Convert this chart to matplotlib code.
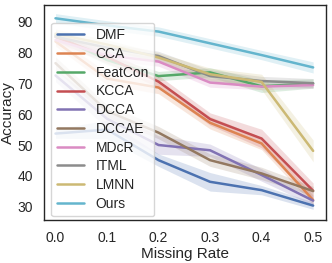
import numpy as np
import matplotlib
matplotlib.use("Agg")
import matplotlib.pyplot as plt
import seaborn as sns

sns.set_theme(style="white")
plt.rcParams['font.family'] = ['Liberation Sans', 'DejaVu Sans']

rates = [0.0, 0.1, 0.2, 0.3, 0.4, 0.5]
methods = ["DMF", "CCA", "FeatCon", "KCCA", "DCCA", "DCCAE", "MDcR", "ITML", "LMNN", "Ours"]

dmf = [53.7, 55.0, 45.1, 38.1, 35.4, 30.4]
cca = [83.5, 71.5, 68.6, 57.2, 50.5, 32.2]
featcon = [85.5, 77.5, 72.3, 73.5, 69.0, 69.9]
kcca = [85.0, 78.5, 70.5, 58.4, 52.1, 35.2]
dcca = [72.5, 58.5, 50.0, 48.3, 40.3, 32.0]
dccae = [76.5, 61.0, 54.0, 45.1, 40.8, 35.1]
mdcr = [84.0, 79.0, 77.0, 70.2, 68.9, 69.4]
itml = [85.0, 81.5, 78.8, 72.3, 70.7, 70.0]
lmnn = [86.0, 82.5, 78.3, 72.9, 70.4, 48.1]
ours = [91.0, 88.7, 86.7, 82.9, 79.1, 75.1]

# half-width of the shaded band per point
dmf_err = [1.5, 3.0, 2.0, 3.0, 1.5, 1.2]
cca_err = [1.5, 2.0, 2.0, 2.0, 2.0, 1.5]
featcon_err = [1.5, 1.5, 1.5, 1.5, 2.0, 1.5]
kcca_err = [1.5, 2.0, 2.0, 2.0, 3.0, 2.5]
dcca_err = [2.0, 3.0, 3.0, 2.0, 2.0, 1.5]
dccae_err = [2.0, 2.0, 2.0, 2.0, 2.0, 1.5]
mdcr_err = [1.5, 1.5, 1.5, 1.5, 1.0, 1.0]
itml_err = [1.5, 1.5, 1.5, 2.0, 1.5, 1.5]
lmnn_err = [1.5, 1.5, 1.5, 2.0, 2.5, 3.5]
ours_err = [1.5, 1.5, 1.5, 1.5, 1.5, 1.8]

values = [dmf, cca, featcon, kcca, dcca, dccae, mdcr, itml, lmnn, ours]
errs = [dmf_err, cca_err, featcon_err, kcca_err, dcca_err, dccae_err,
        mdcr_err, itml_err, lmnn_err, ours_err]
colors = sns.color_palette("deep", 10)

fig = plt.figure(figsize=(3.32, 2.63), dpi=100)
ax = fig.add_axes([0.133, 0.163, 0.849, 0.818])

x = np.array(rates)
for name, v, e, c in zip(methods, values, errs, colors):
    v = np.array(v)
    e = np.array(e)
    ax.fill_between(x, v - e, v + e, color=c, alpha=0.2, linewidth=0)
    ax.plot(x, v, color=c, linewidth=1.8, label=name)

ax.set_xlim(-0.022, 0.525)
ax.set_ylim(25.7, 95.3)
ax.set_xticks(rates)
ax.set_xticklabels(["0.0", "0.1", "0.2", "0.3", "0.4", "0.5"])
ax.set_yticks([30, 40, 50, 60, 70, 80, 90])
ax.tick_params(labelsize=10, pad=2)
ax.set_xlabel("Missing Rate", fontsize=11, labelpad=1)
ax.set_ylabel("Accuracy", fontsize=11, labelpad=2)
for s in ax.spines.values():
    s.set_color("#262626")
    s.set_linewidth(1.0)

ax.legend(loc="upper left", fontsize=10, bbox_to_anchor=(0.0, 0.95),
          handlelength=2.0, labelspacing=0.34, borderpad=0.4)

fig.savefig("out.png", dpi=100)
